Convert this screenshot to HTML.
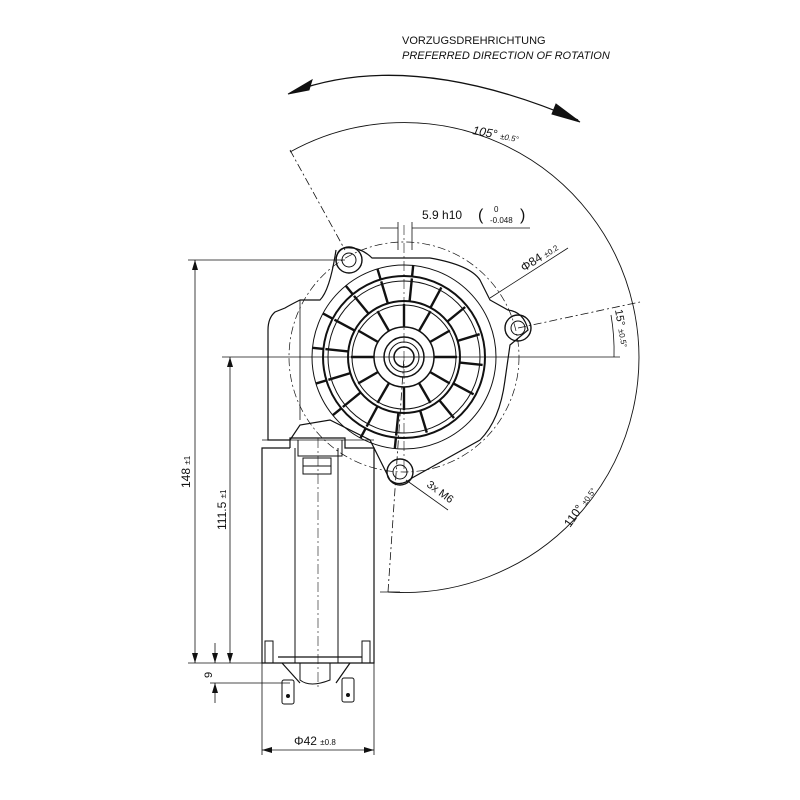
<!DOCTYPE html>
<html><head><meta charset="utf-8"><style>
html,body{margin:0;padding:0;background:#fff;}
svg{display:block}
text{font-family:"Liberation Sans",sans-serif;fill:#111}
</style></head><body>
<svg id="s" width="800" height="800" viewBox="0 0 800 800" xmlns="http://www.w3.org/2000/svg">
<defs>
<marker id="a" markerWidth="10" markerHeight="6" refX="10" refY="3" orient="auto" markerUnits="userSpaceOnUse"><path d="M0,0 L10,3 L0,6 z" fill="#111"/></marker>
<marker id="as" markerWidth="10" markerHeight="6" refX="0" refY="3" orient="auto" markerUnits="userSpaceOnUse"><path d="M10,0 L0,3 L10,6 z" fill="#111"/></marker>
</defs>
<g fill="none" stroke="#111" stroke-width="1">
<!-- titles -->
<!-- rotation arrow -->
<path d="M292,92 Q410,48 578,120" stroke-width="1.3"/>
<path d="M288,94 L312,80 L309,90 z" fill="#111"/>
<path d="M580,122 L556,104 L552,114 z" fill="#111"/>
<!-- big arc r=235 -->
<path d="M290,152 A235,235 0 1 1 388,592" stroke-width="0.9"/>
<path d="M290,150 L345,250" stroke-dasharray="8,3,2,3" stroke-width="0.8"/>
<path d="M388,592 L404,357" stroke-dasharray="8,3,2,3" stroke-width="0.8"/>
<path d="M380,592 L400,592" stroke-width="0.8"/>
<path d="M518,328 L640,302" stroke-dasharray="8,3,2,3" stroke-width="0.8"/>
<path d="M611,315 A210,210 0 0 1 614,357" stroke-width="0.8"/>
<!-- center lines -->
<path d="M222,357 L620,357" stroke-width="0.8"/>
<path d="M404,225 L404,470" stroke-dasharray="10,3,2,3" stroke-width="0.6"/>
<!-- 5.9 h10 dims -->
<path d="M398,222 L398,250 M412,222 L412,250" stroke-width="0.8"/>
<path d="M380,228 L398,228 M412,228 L530,228" stroke-width="0.8"/>
<!-- phi84 leader -->
<path d="M490,298 L568,248" stroke-width="0.8"/>
<circle cx="404" cy="357" r="115" stroke-dasharray="8,3,2,3" stroke-width="0.7"/>
<!-- housing outline -->
<path d="M336,250 Q330,290 320,300 L300,300 Q290,305 285,308 L275,312 Q268,318 268,330 L268,440 L290,440 L300,425 L330,420 L370,440 L380,460 L390,480 Q400,488 412,478 L480,440 Q500,420 505,380 L510,345 L528,330 Q524,312 508,310 L490,300 L480,280 Q470,265 430,258 L372,258 Q360,246 344,248 Q336,250 336,262" stroke-width="1.2"/>
<path d="M300,300 L300,420 M262,440 L374,440" stroke-width="0.8"/>
<!-- bosses -->
<circle cx="349" cy="260" r="13" stroke-width="1.4"/><circle cx="349" cy="260" r="7"/>
<circle cx="518" cy="328" r="13" stroke-width="1.4"/><circle cx="518" cy="328" r="7"/>
<circle cx="400" cy="472" r="13" stroke-width="1.4"/><circle cx="400" cy="472" r="7"/>
<!-- gear disc -->
<circle cx="404" cy="357" r="92" stroke-width="1"/>
<circle cx="404" cy="357" r="81" stroke-width="2"/>
<circle cx="404" cy="357" r="76" stroke-width="1"/>
<circle cx="404" cy="357" r="56" stroke-width="2"/>
<circle cx="404" cy="357" r="52" stroke-width="1"/>
<circle cx="404" cy="357" r="30" stroke-width="1.5"/>
<circle cx="404" cy="357" r="20" stroke-width="1.5"/>
<circle cx="404" cy="357" r="15" stroke-width="1"/>
<circle cx="404" cy="357" r="10" stroke-width="1.5"/>
<g id="sp" stroke-width="2.4"></g>
<!-- motor -->
<path d="M290,448 L290,438 L345,438 L345,448 L374,448 L374,663 L262,663 L262,448 L290,448" stroke-width="1.2"/>
<path d="M295,448 L295,663 M338,448 L338,663 M298,440 L298,456 L342,456 L342,440" stroke-width="1"/>
<path d="M318,438 L318,690" stroke-dasharray="10,3,2,3" stroke-width="0.6"/>
<rect x="303" y="458" width="28" height="16" stroke-width="1"/>
<path d="M303,466 L331,466"/>
<!-- bottom terminals -->
<rect x="265" y="641" width="8" height="22"/><rect x="362" y="641" width="8" height="22"/>
<path d="M278,657 L362,657 M282,663 L300,683 M350,663 L336,683" stroke-width="1.2"/>
<path d="M300,663 L300,680 Q310,688 330,680 L330,663" stroke-width="1"/>
<rect x="282" y="680" width="12" height="24" rx="2"/><circle cx="288" cy="696" r="1.5" fill="#111"/>
<rect x="342" y="678" width="12" height="24" rx="2"/><circle cx="348" cy="695" r="1.5" fill="#111"/>
<!-- dims left -->
<path d="M188,260 L345,260 M222,357 L222,357 M188,663 L262,663 M210,683 L290,683" stroke-width="0.8"/>
<path d="M195,260 L195,663" marker-start="url(#as)" marker-end="url(#a)" stroke-width="0.8"/>
<path d="M230,357 L230,663" marker-start="url(#as)" marker-end="url(#a)" stroke-width="0.8"/>
<path d="M215,643 L215,663" marker-end="url(#a)" stroke-width="0.8"/>
<path d="M215,703 L215,683" marker-end="url(#a)" stroke-width="0.8"/>
<path d="M262,663 L262,755 M374,663 L374,755" stroke-width="0.8"/>
<path d="M262,750 L374,750" marker-start="url(#as)" marker-end="url(#a)" stroke-width="0.8"/>
<!-- 3x M6 leader -->
<path d="M406,480 L448,510" stroke-width="0.8"/>
</g>
<text x="402" y="44" font-size="11">VORZUGSDREHRICHTUNG</text>
<text x="402" y="59" font-size="11" font-style="italic">PREFERRED DIRECTION OF ROTATION</text>
<text x="472" y="134" font-size="12" font-style="italic" transform="rotate(10 472 134)">105° <tspan font-size="8">±0.5°</tspan></text>
<text x="422" y="219" font-size="12">5.9 h10</text>
<text x="478" y="220" font-size="16" fill="#333">(</text>
<text x="494" y="212" font-size="8">0</text>
<text x="490" y="223" font-size="8">-0.048</text>
<text x="520" y="220" font-size="16" fill="#333">)</text>
<text x="524" y="272" font-size="12" transform="rotate(-33 524 272)">Φ84 <tspan font-size="8">±0.2</tspan></text>
<text x="615" y="310" font-size="11" transform="rotate(80 615 310)">15° <tspan font-size="8">±0.5°</tspan></text>
<text x="570" y="528" font-size="12" transform="rotate(-55 570 528)">110° <tspan font-size="8">±0.5°</tspan></text>
<text x="426" y="486" font-size="11" transform="rotate(36 426 486)">3x M6</text>
<text x="190" y="488" font-size="12" transform="rotate(-90 190 488)">148 <tspan font-size="8">±1</tspan></text>
<text x="226" y="530" font-size="12" transform="rotate(-90 226 530)">111.5 <tspan font-size="8">±1</tspan></text>
<text x="212" y="678" font-size="11" transform="rotate(-90 212 678)">9</text>
<text x="294" y="745" font-size="12">Φ42 <tspan font-size="8">±0.8</tspan></text>
<script>
var g=document.getElementById('sp'),ns='http://www.w3.org/2000/svg',cx=404,cy=357;
function L(r1,r2,a){var l=document.createElementNS(ns,'line');var c=Math.cos(a),s=Math.sin(a);
l.setAttribute('x1',cx+r1*c);l.setAttribute('y1',cy+r1*s);l.setAttribute('x2',cx+r2*c);l.setAttribute('y2',cy+r2*s);g.appendChild(l);}
for(var i=0;i<16;i++){L(56,79,i*Math.PI/8+0.1);}
for(var i=0;i<12;i++){L(30,53,i*Math.PI/6);}
for(var i=0;i<9;i++){L(81,92,Math.PI*0.5+i*Math.PI/8+0.1);}
</script>
</svg>
</body></html>
